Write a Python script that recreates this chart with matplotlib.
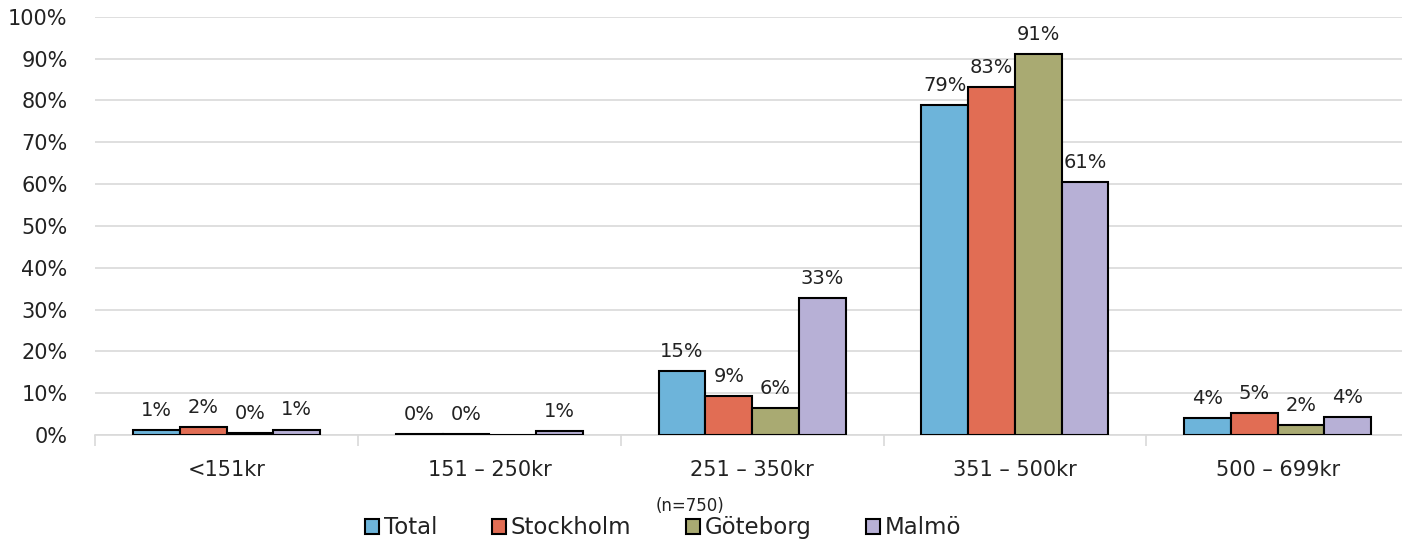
import numpy as np
from matplotlib import pyplot as plt
from matplotlib.ticker import PercentFormatter

categories = ['<151kr', '151 – 250kr', '251 – 350kr', '351 – 500kr', '500 – 699kr']
series = ['Total', 'Stockholm', 'Göteborg', 'Malmö']
total = [1.2, 0.3, 15.3, 79.0, 4.1]
stockholm = [2.0, 0.3, 9.3, 83.2, 5.2]
goteborg = [0.4, 0.0, 6.5, 91.2, 2.3]
malmo = [1.3, 0.9, 32.8, 60.6, 4.4]
colors = ['#6db4da', '#e16d54', '#a9aa72', '#b7b0d6']

plt.rcParams['font.family'] = ['DejaVu Sans']

fig = plt.figure(figsize=(14.02, 5.41), dpi=100)
ax = fig.add_axes([0.068, 0.196, 0.937, 0.773])

x = np.arange(len(categories))
w = 0.178
values = [total, stockholm, goteborg, malmo]
for i, (name, vals, c) in enumerate(zip(series, values, colors)):
    pos = x + (i - 1.5) * w
    ax.bar(pos, vals, w, color=c, edgecolor='black', linewidth=1.5, label=name, zorder=3)
    for j, (px, v) in enumerate(zip(pos, vals)):
        # no label on the empty Göteborg bar in 151-250kr
        if name == 'Göteborg' and j == 1:
            continue
        ax.text(px, v + 2.4, '%d%%' % round(v), ha='center', va='bottom', fontsize=14, color='#222222')

ax.set_ylim(0, 100)
ax.set_xlim(-0.5, len(categories) - 0.5)
ax.set_yticks(range(0, 101, 10))
ax.yaxis.set_major_formatter(PercentFormatter(decimals=0))
ax.grid(axis='y', color='#d9d9d9', linewidth=1.2, zorder=0)
ax.set_xticks(x)
ax.set_xticklabels(categories)
ax.set_xticks(np.arange(-0.5, len(categories)), minor=True)
ax.tick_params(axis='x', which='major', length=0, pad=18, labelsize=15, labelcolor='#222222')
ax.tick_params(axis='x', which='minor', length=8, color='#d9d9d9', width=1.2)
ax.tick_params(axis='y', length=0, pad=20, labelsize=15, labelcolor='#222222')
for s in ['left', 'right', 'top']:
    ax.spines[s].set_visible(False)
ax.spines['bottom'].set_color('#d9d9d9')
ax.spines['bottom'].set_linewidth(1.2)

fig.text(690 / 1402, 1 - 506 / 541, '(n=750)', ha='center', va='center', fontsize=12, color='#222222')
fig.legend(loc='lower center', bbox_to_anchor=(0.473, -0.035), ncol=4, frameon=False,
           fontsize=16.5, handlelength=0.6, handleheight=0.6, handletextpad=0.2,
           columnspacing=2.4, labelcolor='#222222')

fig.savefig('out.png', dpi=100)
